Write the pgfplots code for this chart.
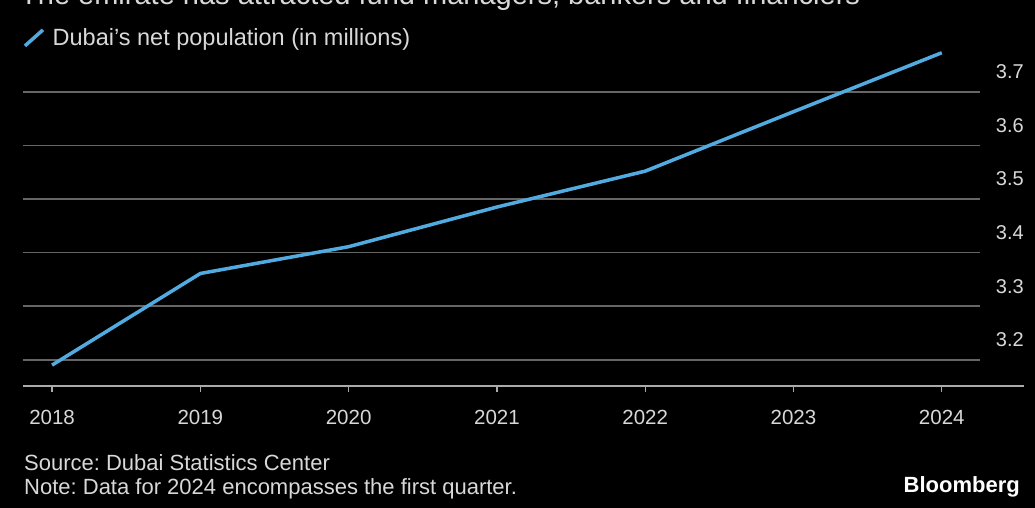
\documentclass[border=0pt]{standalone}
\usepackage{pgfplots}
\pgfplotsset{compat=1.18}
\usepackage{fontspec}
\setmainfont{Liberation Sans}
\frenchspacing
\definecolor{linec}{HTML}{52ABE0}
\definecolor{gridc}{HTML}{666666}
\definecolor{basec}{HTML}{AAAAAA}
\definecolor{txtc}{HTML}{D8D8D8}
\begin{document}
\begin{tikzpicture}[x=1pt,y=1pt]
\fill[black] (0,0) rectangle (1035,508);
\useasboundingbox (0,0) rectangle (1035,508);
\node[anchor=base west, text=txtc, font=\fontsize{29}{32}\selectfont, inner sep=0] at (20,503) {The emirate has attracted fund managers, bankers and financiers};
\begin{axis}[
  at={(23pt,122pt)}, anchor=south west,
  scale only axis, width=957pt, height=337pt,
  xmin=2017.804, xmax=2024.258, ymin=3.151, ymax=3.78,
  axis line style={draw=none},
  clip=false,
  xtick pos=bottom,
  xtick={2018,2019,2020,2021,2022,2023,2024},
  xticklabels={2018,2019,2020,2021,2022,2023,2024},
  ytick={3.2,3.3,3.4,3.5,3.6,3.7},
  yticklabels={3.2,3.3,3.4,3.5,3.6,3.7},
  yticklabel pos=right,
  ymajorgrids,
  grid style={color=gridc, line width=1.8pt},
  tick align=outside,
  major tick length=6pt,
  xtick style={draw=basec, line width=1.2pt},
  ytick style={draw=none},
  xticklabel style={anchor=center, yshift=-25pt, text=txtc, font=\fontsize{20.5}{22}\selectfont},
  yticklabel style={anchor=east, inner sep=0pt, xshift=38pt, yshift=20pt, text=txtc, font=\fontsize{20}{22}\selectfont},
  legend style={at={(axis description cs:0,1.033)}, anchor=west, draw=none, fill=none, text=txtc, font=\fontsize{23.5}{26}\selectfont, inner sep=0pt,
    /tikz/every even column/.append style={column sep=0pt}},
  legend image code/.code={\draw[#1, line width=3.5pt] (2pt,-8pt) -- (20pt,8pt);},
  legend cell align=left,
]
\draw[basec, line width=1.8pt] (rel axis cs:0,0) -- (rel axis cs:1.046,0);
\addplot[color=linec, line width=3.5pt, line join=round] coordinates {
  (2018,3.190) (2019,3.361) (2020,3.411) (2021,3.485) (2022,3.552) (2023,3.663) (2024,3.773)
};
\addlegendentry{\hspace{6pt}Dubai's net population (in millions)}
\end{axis}
\node[anchor=base west, text=txtc, font=\fontsize{22}{24}\selectfont, inner sep=0] at (24,37) {Source: Dubai Statistics Center};
\node[anchor=base west, text=txtc, font=\fontsize{22}{24}\selectfont, inner sep=0] at (24,13) {Note: Data for 2024 encompasses the first quarter.};
\node[anchor=base east, text=white, font=\bfseries\fontsize{22}{24}\selectfont, inner sep=0] at (1020,15) {Bloomberg};
\end{tikzpicture}
\end{document}
